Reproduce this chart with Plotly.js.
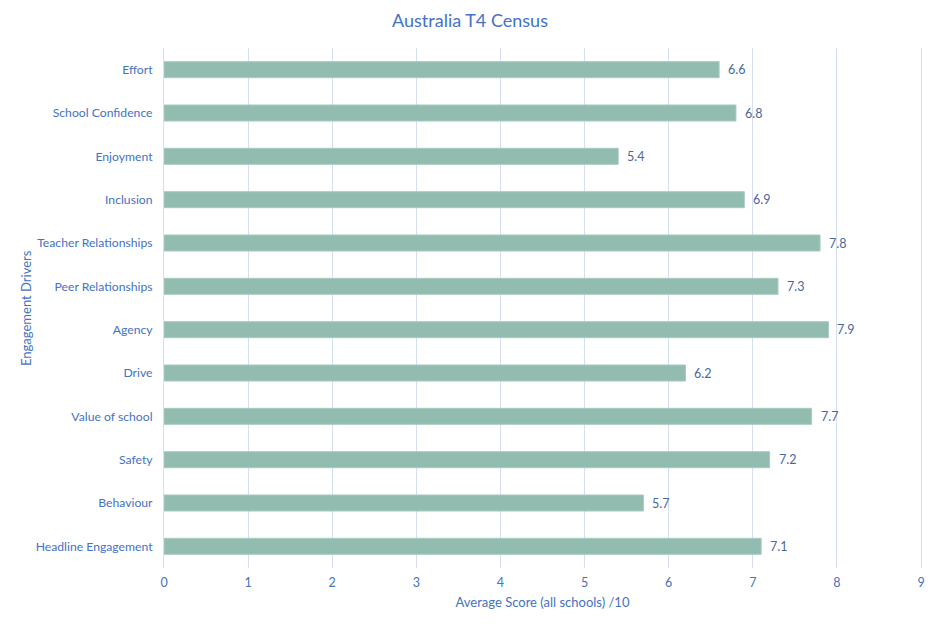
<!DOCTYPE html>
<html>
<head>
<meta charset="utf-8">
<script src="https://cdn.plot.ly/plotly-3.0.1.min.js"></script>
<style>html,body{margin:0;padding:0;background:#fff;}#chart{width:940px;height:628px;}</style>
</head>
<body>
<div id="chart"></div>
<script>
const categories = ["Effort", "School Confidence", "Enjoyment", "Inclusion", "Teacher Relationships", "Peer Relationships", "Agency", "Drive", "Value of school", "Safety", "Behaviour", "Headline Engagement"];
const scores = [6.6, 6.8, 5.4, 6.9, 7.8, 7.3, 7.9, 6.2, 7.7, 7.2, 5.7, 7.1];
const xTicks = [0, 1, 2, 3, 4, 5, 6, 7, 8, 9];

const trace = {
  type: 'bar',
  orientation: 'h',
  y: categories,
  x: scores,
  marker: {color: '#93BCB0', line: {color: '#A9CCC2', width: 1}},
  hoverinfo: 'skip'
};

const labels = scores.map((v, i) => ({
  x: v, y: categories[i], xref: 'x', yref: 'y',
  text: v.toFixed(1), showarrow: false, xanchor: 'left', yanchor: 'middle',
  xshift: 7, font: {family: 'Lato, sans-serif', size: 12.5, color: '#4A66A0'}
}));

labels.push({
  text: 'Engagement Drivers', xref: 'paper', yref: 'paper', x: 0, y: 0.5,
  xshift: -138, textangle: -90, showarrow: false, xanchor: 'center', yanchor: 'middle',
  font: {family: 'Lato, sans-serif', size: 13, color: '#4472C4'}
});

const layout = {
  width: 940, height: 628,
  margin: {l: 164, r: 19, t: 48, b: 60},
  paper_bgcolor: '#ffffff', plot_bgcolor: '#ffffff',
  font: {family: 'Lato, sans-serif', color: '#4472C4', size: 12},
  title: {text: 'Australia T4 Census', x: 0.5, xanchor: 'center', y: 0.967, yanchor: 'middle', font: {size: 18, color: '#4472C4', family: 'Lato, sans-serif'}},
  bargap: 0.63,
  showlegend: false,
  annotations: labels,
  xaxis: {
    range: [0, 9], tickvals: xTicks, ticktext: xTicks.map(String),
    showgrid: true, gridcolor: '#D5DFF0', gridwidth: 1,
    zeroline: false, showline: false, ticks: 'outside', ticklen: 3, tickcolor: 'rgba(0,0,0,0)',
    tickfont: {size: 12.5, color: '#4472C4'},
    title: {text: 'Average Score (all schools) /10', font: {size: 13, color: '#4472C4'}, standoff: 8}
  },
  yaxis: {
    autorange: 'reversed', showgrid: false, zeroline: false,
    showline: true, mirror: true, linecolor: '#D5DFF0', linewidth: 1,
    ticks: 'outside', ticklen: 8, tickcolor: 'rgba(0,0,0,0)', tickfont: {size: 12.2, color: '#4472C4'},
    automargin: false
  }
};

Plotly.newPlot('chart', [trace], layout, {displayModeBar: false, staticPlot: true});
</script>
</body>
</html>
